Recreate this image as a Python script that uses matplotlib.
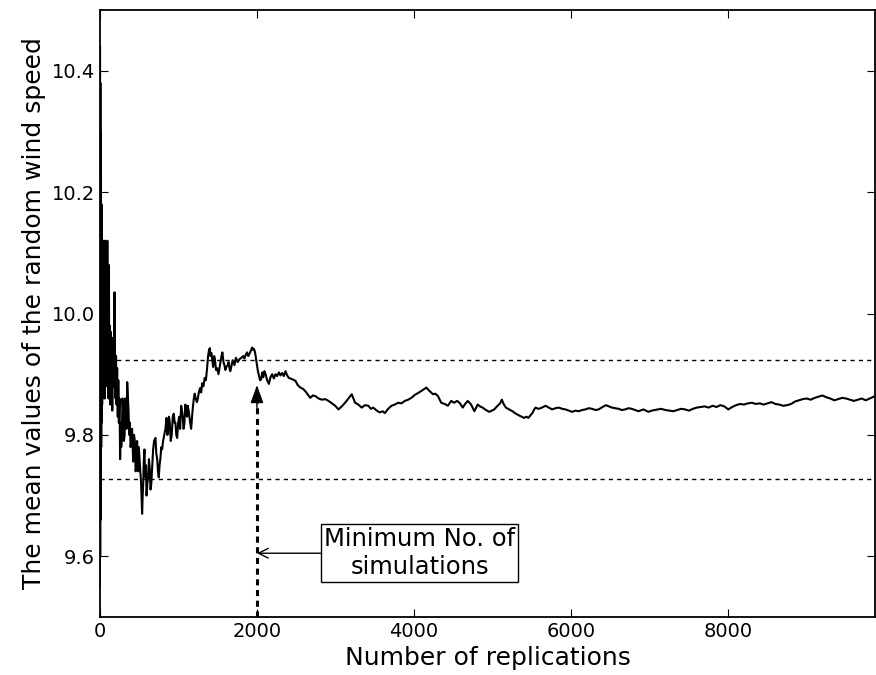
import matplotlib
matplotlib.use('Agg')
import matplotlib.pyplot as plt

# running mean of the simulated wind speed
# (replication, mean) pairs, split by stage of the run
burn_in = [
    (1, 9.55), (2, 10.44), (4, 9.60), (6, 10.38), (8, 9.66), (10, 10.30),
    (12, 9.72), (14, 10.24), (17, 9.78), (20, 10.18), (23, 9.82), (26, 10.14),
    (29, 9.85), (33, 10.12), (37, 9.86), (41, 10.10), (45, 9.88), (50, 10.12),
    (54, 9.87), (58, 10.08), (62, 9.86), (66, 10.12), (70, 9.88), (75, 10.06),
    (80, 9.90), (85, 10.10), (90, 9.88), (95, 10.12), (100, 9.92), (105, 10.05),
    (110, 9.86), (115, 10.08), (120, 9.90), (126, 9.98), (132, 9.85),
    (138, 9.97), (145, 9.86), (152, 9.95), (158, 9.84), (165, 9.96),
    (172, 9.88), (180, 9.92), (187, 10.035), (193, 9.93), (200, 9.86),
    (206, 9.93), (212, 9.85), (220, 9.91), (228, 9.83), (235, 9.89),
    (242, 9.82), (250, 9.86), (258, 9.76), (265, 9.82), (272, 9.78),
    (280, 9.80), (288, 9.86), (297, 9.84), (306, 9.79), (315, 9.80),
    (323, 9.86), (330, 9.85), (340, 9.81), (348, 9.887), (357, 9.86),
    (365, 9.84), (374, 9.80), (382, 9.82), (391, 9.78), (400, 9.79),
    (410, 9.81), (424, 9.756), (435, 9.80), (445, 9.79), (455, 9.74),
    (466, 9.75), (474, 9.79), (480, 9.77), (488, 9.74), (496, 9.78),
    (505, 9.76), (515, 9.74), (525, 9.72), (538, 9.67), (545, 9.70),
    (552, 9.72), (560, 9.76), (568, 9.776), (574, 9.74), (580, 9.73),
    (587, 9.75), (594, 9.70), (605, 9.72), (615, 9.73), (625, 9.76),
    (636, 9.743), (645, 9.71), (655, 9.72), (667, 9.75), (678, 9.776),
    (690, 9.79), (708, 9.795), (718, 9.77), (730, 9.76), (740, 9.74),
    (750, 9.73), (760, 9.75), (770, 9.76), (782, 9.78), (793, 9.776),
]
rise = [
    (805, 9.79), (820, 9.80), (835, 9.81), (848, 9.828), (860, 9.80),
    (870, 9.81), (880, 9.83), (890, 9.82), (902, 9.79), (915, 9.80),
    (928, 9.83), (941, 9.835), (952, 9.82), (962, 9.82), (973, 9.80),
    (984, 9.795), (997, 9.82), (1010, 9.83), (1022, 9.81), (1035, 9.848),
    (1045, 9.84), (1055, 9.83), (1066, 9.81), (1077, 9.82), (1088, 9.85),
    (1100, 9.84), (1110, 9.83), (1120, 9.848), (1130, 9.84), (1140, 9.83),
    (1150, 9.82), (1162, 9.81), (1180, 9.84), (1196, 9.86), (1208, 9.868),
    (1220, 9.86), (1235, 9.854), (1247, 9.86), (1260, 9.87), (1275, 9.877),
    (1290, 9.87), (1302, 9.885), (1318, 9.88), (1335, 9.894), (1350, 9.89),
    (1365, 9.91), (1378, 9.93), (1390, 9.94), (1400, 9.943), (1408, 9.93),
    (1420, 9.935), (1430, 9.925), (1442, 9.912), (1455, 9.93), (1465, 9.925),
    (1478, 9.907), (1492, 9.91), (1510, 9.90), (1535, 9.92), (1548, 9.93),
    (1560, 9.936), (1574, 9.92), (1586, 9.915), (1598, 9.907), (1610, 9.912),
    (1628, 9.915), (1640, 9.92), (1650, 9.91), (1660, 9.905), (1670, 9.91),
    (1690, 9.923), (1713, 9.915), (1733, 9.927), (1755, 9.92), (1780, 9.925),
    (1810, 9.928), (1825, 9.93), (1840, 9.926), (1858, 9.932), (1874, 9.936),
    (1890, 9.93), (1910, 9.935), (1925, 9.94), (1938, 9.944), (1950, 9.94),
    (1960, 9.942), (1972, 9.938), (1983, 9.93), (2000, 9.915),
]
settle = [
    (2012, 9.905), (2025, 9.898), (2040, 9.89), (2054, 9.892), (2067, 9.903),
    (2080, 9.895), (2095, 9.905), (2110, 9.90), (2130, 9.89), (2152, 9.884),
    (2172, 9.895), (2194, 9.90), (2215, 9.893), (2236, 9.90), (2257, 9.897),
    (2280, 9.903), (2300, 9.898), (2320, 9.902), (2342, 9.897), (2363, 9.905),
    (2385, 9.898), (2405, 9.894), (2445, 9.892), (2490, 9.889), (2520, 9.882),
    (2553, 9.878), (2585, 9.876), (2616, 9.872), (2650, 9.866), (2679, 9.861),
    (2710, 9.865), (2743, 9.864), (2785, 9.860), (2827, 9.858), (2870, 9.859),
    (2911, 9.856), (2955, 9.852), (2996, 9.848), (3038, 9.842), (3080, 9.847),
    (3122, 9.853), (3165, 9.860), (3207, 9.867), (3249, 9.853), (3290, 9.850),
    (3333, 9.845), (3375, 9.849), (3418, 9.848), (3450, 9.843), (3481, 9.845),
    (3525, 9.840), (3565, 9.837), (3600, 9.839), (3629, 9.836), (3670, 9.843),
    (3713, 9.848), (3755, 9.850), (3797, 9.853), (3840, 9.852), (3882, 9.856),
    (3925, 9.858), (3966, 9.861), (4010, 9.866), (4051, 9.869), (4100, 9.873),
    (4156, 9.878), (4200, 9.872), (4241, 9.867), (4270, 9.868), (4304, 9.864),
    (4346, 9.853), (4390, 9.851), (4430, 9.848), (4473, 9.856), (4510, 9.853),
    (4549, 9.856), (4578, 9.853), (4620, 9.845), (4650, 9.851), (4684, 9.856),
    (4726, 9.850), (4768, 9.839), (4810, 9.850), (4840, 9.847), (4873, 9.845),
    (4915, 9.841), (4958, 9.838), (4990, 9.840), (5021, 9.842), (5063, 9.848),
    (5095, 9.852), (5118, 9.858), (5140, 9.851), (5169, 9.845), (5210, 9.842),
    (5253, 9.839), (5295, 9.835), (5338, 9.832), (5370, 9.830), (5401, 9.828),
    (5430, 9.830), (5456, 9.828), (5480, 9.832), (5506, 9.836), (5530, 9.842),
    (5548, 9.845), (5580, 9.843), (5612, 9.844),
]
tail = [
    (5645, 9.846), (5675, 9.848), (5715, 9.845), (5759, 9.842), (5800, 9.844),
    (5844, 9.845), (5885, 9.843), (5928, 9.842), (5970, 9.840), (6013, 9.838),
    (6055, 9.840), (6097, 9.839), (6140, 9.841), (6181, 9.842), (6225, 9.844),
    (6266, 9.843), (6310, 9.841), (6350, 9.842), (6400, 9.846), (6443, 9.849),
    (6480, 9.847), (6519, 9.845), (6560, 9.844), (6604, 9.843), (6645, 9.841),
    (6688, 9.842), (6730, 9.844), (6772, 9.843), (6815, 9.841), (6857, 9.839),
    (6920, 9.842), (6983, 9.838), (7025, 9.840), (7068, 9.841), (7105, 9.842),
    (7144, 9.843), (7200, 9.841), (7250, 9.840), (7300, 9.839), (7350, 9.841),
    (7400, 9.843), (7450, 9.842), (7500, 9.840), (7550, 9.843), (7600, 9.845),
    (7650, 9.846), (7700, 9.847), (7750, 9.845), (7800, 9.848), (7850, 9.846),
    (7900, 9.849), (7950, 9.847), (8000, 9.842), (8050, 9.846), (8100, 9.849),
    (8150, 9.851), (8200, 9.850), (8250, 9.852), (8300, 9.853), (8350, 9.851),
    (8400, 9.852), (8450, 9.850), (8500, 9.852), (8550, 9.854), (8600, 9.851),
    (8650, 9.850), (8700, 9.848), (8750, 9.849), (8800, 9.851), (8850, 9.855),
    (8900, 9.857), (8950, 9.859), (9000, 9.860), (9050, 9.858), (9100, 9.861),
    (9150, 9.863), (9200, 9.865), (9250, 9.862), (9300, 9.860), (9350, 9.857),
    (9400, 9.859), (9450, 9.861), (9500, 9.860), (9550, 9.858), (9600, 9.856),
    (9650, 9.858), (9700, 9.860), (9750, 9.857), (9800, 9.860), (9870, 9.864),
]

upper_band = 9.923
lower_band = 9.727
min_runs = 2000
x_max = 9870

replications, mean_speed = zip(*(burn_in + rise + settle + tail))

fig = plt.figure(figsize=(8.76, 6.75), dpi=100)
ax = fig.add_axes([0.114, 0.086, 0.885, 0.899])

ax.plot(replications, mean_speed, color='black', lw=1.5)

# tolerance band
ax.axhline(upper_band, color='black', lw=1, ls=(0, (3, 3)))
ax.axhline(lower_band, color='black', lw=1, ls=(0, (3, 3)))

# minimum number of runs marker
ax.plot([min_runs, min_runs], [9.5, 9.86], color='black', lw=2.2,
        ls=(0, (2, 1.5)))
ax.annotate('', xy=(min_runs, 9.882), xytext=(min_runs, 9.845),
            arrowprops=dict(arrowstyle='-|>,head_length=0.55,head_width=0.2',
                            color='black', lw=1, mutation_scale=20,
                            shrinkA=0, shrinkB=0))

ax.annotate('Minimum No. of\nsimulations', xy=(min_runs, 9.605),
            xytext=(4070, 9.605), ha='center', va='center', fontsize=17.5,
            bbox=dict(boxstyle='square,pad=0.12', fc='white', ec='black'),
            arrowprops=dict(arrowstyle='->', color='black', lw=1,
                            shrinkA=0, shrinkB=0))

ax.set_xlim(0, x_max)
ax.set_ylim(9.5, 10.5)
ax.set_xticks([0, 2000, 4000, 6000, 8000])
ax.set_yticks([9.6, 9.8, 10.0, 10.2, 10.4])
ax.tick_params(direction='in', top=True, right=True, length=6, labelsize=14)
for s in ax.spines.values():
    s.set_linewidth(1.3)

ax.set_xlabel('Number of replications', fontsize=18)
ax.set_ylabel('The mean values of the random wind speed', fontsize=18)

fig.savefig('out.png', dpi=100)
